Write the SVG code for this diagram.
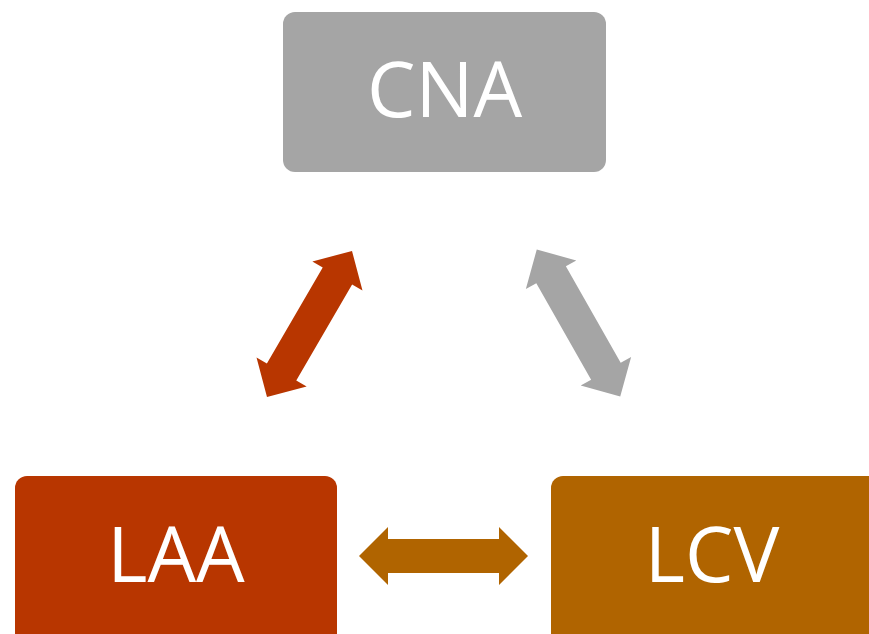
<svg xmlns="http://www.w3.org/2000/svg" xmlns:xlink="http://www.w3.org/1999/xlink" width="869" height="634" viewBox="0 0 869 634">
<style>
.lbl{font-family:"Open Sans","Liberation Sans",sans-serif;font-size:77px;fill:#ffffff;text-anchor:middle}
</style>
<defs>
<path id="dbl" d="M-84.5,0 L-55.5,-29 L-55.5,-17 L55.5,-17 L55.5,-29 L84.5,0 L55.5,29 L55.5,17 L-55.5,17 L-55.5,29 Z"/>
</defs>
<rect width="869" height="634" fill="#ffffff"/>
<g id="connectors">
<use xlink:href="#dbl" fill="#b83600" transform="translate(309.5,324) rotate(-59.8)"/>
<use xlink:href="#dbl" fill="#a5a5a5" transform="translate(578.5,323) rotate(60.4)"/>
<use xlink:href="#dbl" fill="#b06400" transform="translate(443.5,556)"/>
</g>
<g id="CNA">
<rect x="283" y="12" width="323" height="160" rx="12" fill="#a5a5a5"/>
<text class="lbl" x="444.5" y="117">CNA</text>
</g>
<g id="LAA">
<rect x="15" y="476" width="322" height="170" rx="12" fill="#b83600"/>
<text class="lbl" x="176" y="582">LAA</text>
</g>
<g id="LCV">
<rect x="551" y="476" width="330" height="170" rx="12" fill="#b06400"/>
<text class="lbl" x="712" y="582">LCV</text>
</g>
</svg>
